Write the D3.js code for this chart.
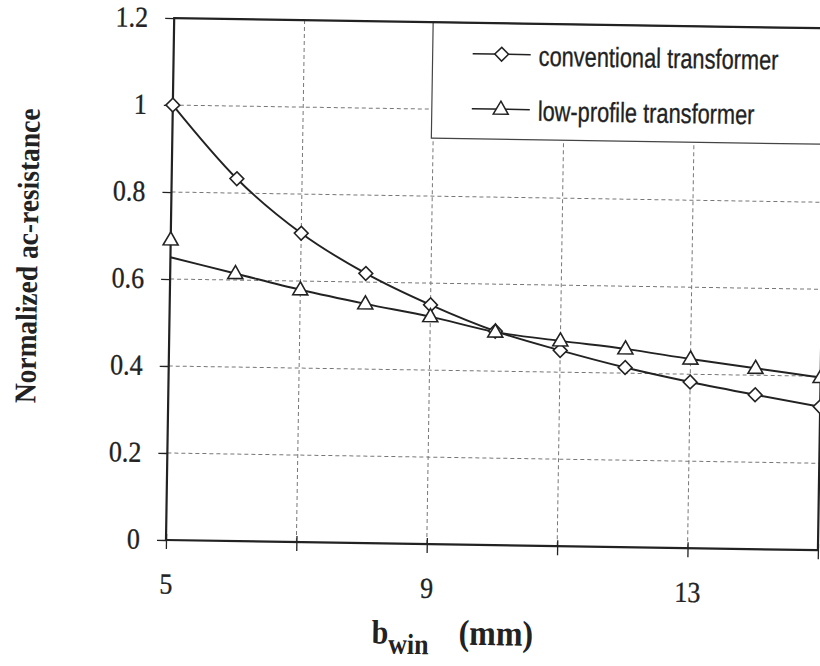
<!DOCTYPE html>
<html>
<head>
<meta charset="utf-8">
<script src="https://cdn.jsdelivr.net/npm/d3@7"></script>
<style>
  body { margin: 0; background: #fff; }
  svg { display: block; }
</style>
</head>
<body>
<div id="chart"></div>
<script>
// data
const bWin = [5, 6, 7, 8, 9, 10, 11, 12, 13, 14, 15];
const conventional = [1.0, 0.833, 0.71, 0.62, 0.55, 0.492, 0.45, 0.413, 0.382, 0.355, 0.33];
const lowProfile = [0.69, 0.615, 0.58, 0.55, 0.523, 0.49, 0.472, 0.456, 0.435, 0.416, 0.397];
// the drawn curve for the low-profile series starts below its first marker
const lowProfileCurve = [0.65, 0.615, 0.58, 0.55, 0.523, 0.49, 0.472, 0.456, 0.435, 0.416, 0.397];
const xTicks = [5, 7, 9, 11, 13, 15];
const xTickLabels = [5, 9, 13];
const yTicks = [0, 0.2, 0.4, 0.6, 0.8, 1.0, 1.2];
const seriesNames = ["conventional transformer", "low-profile transformer"];

const width = 820, height = 666;
const mLeft = 166, mRight = 818, mTop = 18, mBottom = 540;
const ink = "#222";
const serif = "'Liberation Serif', 'Times New Roman', serif";
// scanned text is a bit taller than it is wide
const tickStretch = 1.12, legendStretch = 1.27;

const svg = d3.select("#chart").append("svg")
    .attr("width", width).attr("height", height);

// the scan is tilted a little clockwise
const g = svg.append("g").attr("transform", `rotate(0.9, ${mLeft}, ${mBottom})`);

const x = d3.scaleLinear().domain([5, 15]).range([mLeft, mRight]);
const y = d3.scaleLinear().domain([0, 1.2]).range([mBottom, mTop]);

// dashed grid
g.append("g").selectAll("line").data(yTicks.filter(d => d > 0 && d < 1.2)).join("line")
    .attr("x1", mLeft).attr("x2", mRight)
    .attr("y1", d => y(d)).attr("y2", d => y(d))
    .attr("stroke", "#777").attr("stroke-width", 1).attr("stroke-dasharray", "4,3");
g.append("g").selectAll("line").data(xTicks.filter(d => d > 5 && d < 15)).join("line")
    .attr("x1", d => x(d)).attr("x2", d => x(d))
    .attr("y1", mTop).attr("y2", mBottom)
    .attr("stroke", "#777").attr("stroke-width", 1).attr("stroke-dasharray", "4,3");

// axes with crossing ticks
const yAxis = d3.axisLeft(y).tickValues(yTicks).tickSize(9).tickPadding(17)
    .tickFormat(d => d3.format("")(+d.toFixed(1)));
const ya = g.append("g").attr("transform", `translate(${mLeft},0)`).call(yAxis);
ya.select(".domain").remove();
ya.selectAll("line").attr("stroke", ink).attr("stroke-width", 1.3);
ya.selectAll("text").attr("font-family", serif).attr("dy", "0.3em")
    .attr("transform", `scale(1,${tickStretch})`)
    .attr("font-size", 26).attr("fill", ink).attr("stroke", ink).attr("stroke-width", 0.3);

const xAxis = d3.axisBottom(x).tickValues(xTicks).tickSize(9)
    .tickFormat(d => xTickLabels.includes(d) ? d : "");
const xa = g.append("g").attr("transform", `translate(0,${mBottom})`).call(xAxis);
xa.select(".domain").remove();
xa.selectAll("line").attr("stroke", ink).attr("stroke-width", 1.3).attr("y1", -6);
xa.selectAll("text").attr("y", 29.5).attr("font-family", serif)
    .attr("transform", `scale(1,${tickStretch})`)
    .attr("font-size", 26).attr("fill", ink).attr("stroke", ink).attr("stroke-width", 0.3);

// legend box (extends off the right edge)
g.append("rect")
    .attr("x", 425).attr("y", mTop).attr("width", 420).attr("height", 116)
    .attr("fill", "#fff").attr("stroke", "#444").attr("stroke-width", 1.2);

// frame
g.append("rect")
    .attr("x", mLeft).attr("y", mTop).attr("width", mRight - mLeft).attr("height", mBottom - mTop)
    .attr("fill", "none").attr("stroke", ink).attr("stroke-width", 2.2);

// series
const curve = (vals) => d3.line()
    .x((d, i) => x(bWin[i])).y(d => y(d))
    .curve(d3.curveMonotoneX)(vals);

g.append("path").attr("d", curve(conventional))
    .attr("fill", "none").attr("stroke", ink).attr("stroke-width", 1.9);
g.append("path").attr("d", curve(lowProfileCurve))
    .attr("fill", "none").attr("stroke", ink).attr("stroke-width", 1.9);

const diamond = d3.symbol().type(d3.symbolSquare).size(95)();
const triangle = "M0,-8L7.5,5L-7.5,5Z";

g.append("g").selectAll("path").data(conventional).join("path")
    .attr("d", diamond)
    .attr("transform", (d, i) => `translate(${x(bWin[i])},${y(d)}) rotate(45)`)
    .attr("fill", "#fff").attr("stroke", ink).attr("stroke-width", 1.6);
g.append("g").selectAll("path").data(lowProfile).join("path")
    .attr("d", triangle)
    .attr("transform", (d, i) => `translate(${x(bWin[i])},${y(d)})`)
    .attr("fill", "#fff").attr("stroke", ink).attr("stroke-width", 1.6);

// legend entries
const legendRows = [49, 104];
const lg = g.append("g").selectAll("g").data(seriesNames).join("g")
    .attr("transform", (d, i) => `translate(465,${legendRows[i]})`);
lg.append("line").attr("x1", 0).attr("x2", 58).attr("y1", 0).attr("y2", 0)
    .attr("stroke", ink).attr("stroke-width", 1.5);
lg.append("path")
    .attr("d", (d, i) => i === 0 ? diamond : triangle)
    .attr("transform", (d, i) => `translate(29,0)` + (i === 0 ? " rotate(45)" : ""))
    .attr("fill", "#fff").attr("stroke", ink).attr("stroke-width", 1.5);
lg.append("text").text(d => d)
    .attr("transform", `translate(66,11) scale(1,${legendStretch})`)
    .attr("font-family", "'Liberation Sans', Arial, sans-serif")
    .attr("font-size", 21.8).attr("fill", ink).attr("stroke", ink).attr("stroke-width", 0.25);

// axis titles
const xt = g.append("text")
    .attr("transform", "translate(373,640) scale(1,1.12)")
    .attr("font-family", serif)
    .attr("font-weight", "bold").attr("fill", ink);
xt.append("tspan").attr("font-size", 30).text("b");
xt.append("tspan").attr("font-size", 26).attr("dy", 9).text("win");
xt.append("tspan").attr("font-size", 32).attr("dy", -9).attr("x", 87).text("(mm)");

g.append("text")
    .attr("transform", "translate(33,258) rotate(-90) scale(1,1.1)")
    .attr("text-anchor", "middle")
    .attr("font-family", serif)
    .attr("font-weight", "bold").attr("font-size", 27.5).attr("fill", ink)
    .text("Normalized  ac-resistance");
</script>
</body>
</html>
